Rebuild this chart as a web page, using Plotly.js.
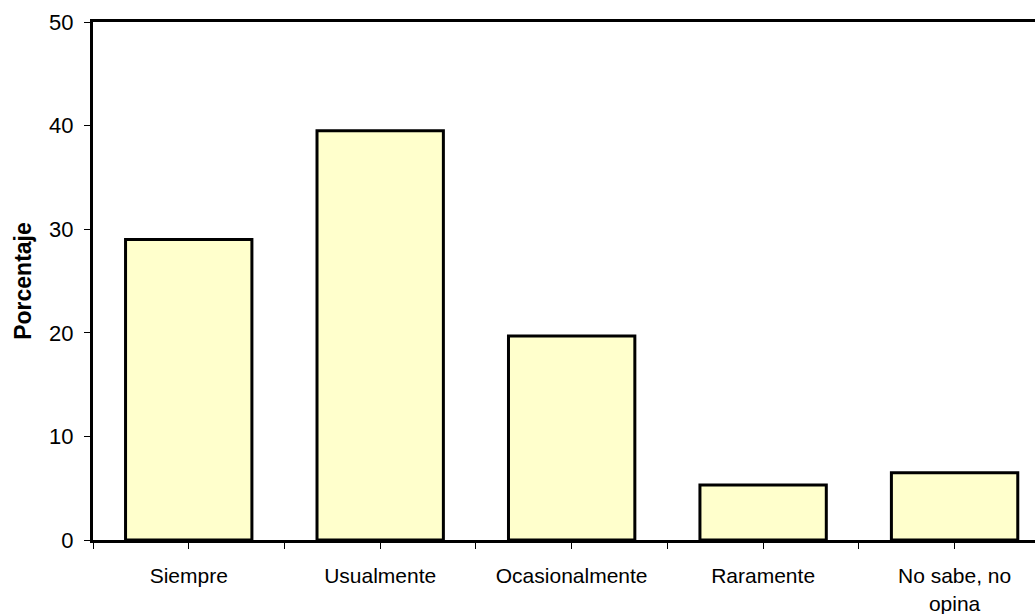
<!DOCTYPE html>
<html>
<head>
<meta charset="utf-8">
<script src="https://cdn.plot.ly/plotly-3.0.1.min.js"></script>
<style>
html,body{margin:0;padding:0;overflow:hidden;background:#fff;}
#chart{width:1035px;height:614px;}
</style>
</head>
<body>
<div id="chart"></div>
<script>
const categories = ["Siempre", "Usualmente", "Ocasionalmente", "Raramente", "No sabe, no<br>opina"];
const porcentaje = [29.0, 39.5, 19.7, 5.3, 6.5];
const yTicks = [0, 10, 20, 30, 40, 50];

const positions = categories.map((c, i) => i);

const trace = {
  type: "bar",
  x: positions,
  y: porcentaje,
  width: 0.66,
  marker: {color: "#FFFFCC", line: {color: "#000000", width: 3}},
  hoverinfo: "skip"
};

const layout = {
  width: 1035,
  height: 614,
  margin: {l: 93, r: 0, t: 22, b: 74},
  paper_bgcolor: "#ffffff",
  plot_bgcolor: "#ffffff",
  showlegend: false,
  font: {family: "Liberation Sans, Arial, sans-serif", color: "#000000"},
  xaxis: {
    type: "linear",
    range: [-0.5, 4.42],
    tickmode: "array",
    tickvals: positions,
    ticktext: categories,
    ticks: "outside",
    ticklen: 6,
    tickwidth: 1,
    tickcolor: "#000000",
    minor: {tick0: -0.5, dtick: 0.5, ticks: "outside", ticklen: 6, tickwidth: 1, tickcolor: "#000000", showgrid: false},
    showgrid: false,
    zeroline: false,
    showline: true,
    linecolor: "#000000",
    linewidth: 3,
    mirror: true,
    tickfont: {size: 21, color: "#000000"},
    ticklabelstandoff: 9,
    fixedrange: true
  },
  yaxis: {
    range: [0, 50],
    tickmode: "array",
    tickvals: yTicks,
    ticks: "outside",
    ticklen: 6,
    tickwidth: 1,
    tickcolor: "#000000",
    showgrid: false,
    zeroline: false,
    showline: true,
    linecolor: "#000000",
    linewidth: 3,
    tickfont: {size: 22, color: "#000000"},
    ticklabelstandoff: 6,
    title: {text: "<b>Porcentaje</b>", font: {size: 23, color: "#000000"}, standoff: 12},
    fixedrange: true
  }
};

Plotly.newPlot("chart", [trace], layout, {displayModeBar: false, staticPlot: true});
</script>
</body>
</html>
